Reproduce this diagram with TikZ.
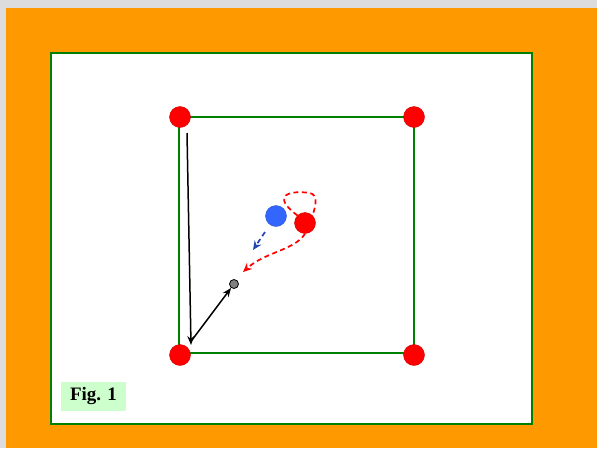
\documentclass[tikz,border=0pt]{standalone}
\usepackage{fontspec}
\setmainfont{Liberation Serif}
\usetikzlibrary{arrows.meta,patterns}
\definecolor{bggray}{HTML}{DCDCDC}
\definecolor{orng}{HTML}{FF9900}
\definecolor{grn}{HTML}{008000}
\definecolor{lgrn}{HTML}{CCFFCC}
\definecolor{bluedot}{HTML}{3366FF}
\tikzset{
  reddot/.style={circle,fill=red,draw=red!80!black,line width=0.4pt,minimum size=21pt,inner sep=0pt},
  bluedotst/.style={circle,fill=bluedot,draw=bluedot!80!black,line width=0.4pt,minimum size=21pt,inner sep=0pt},
  ballst/.style={circle,fill=black!50,draw=black,line width=0.8pt,minimum size=9pt,inner sep=0pt},
  movearrow/.style={-{Stealth[length=9pt,width=7pt]},line width=1.5pt},
  reddash/.style={red,dash pattern=on 5pt off 3.5pt,line width=1.7pt},
  bluedash/.style={bluedot!70!black,dash pattern=on 5pt off 3.5pt,line width=1.7pt}
}
\begin{document}
\begin{tikzpicture}[x=1pt,y=-1pt]
\useasboundingbox (0,0) rectangle (597,448);
\fill[bggray] (0,0) rectangle (597,448);
\fill[orng] (5.5,8) rectangle (597,448);
\draw[grn,fill=white,line width=2.4pt] (51,53) rectangle (532,424);
\draw[grn,line width=2.4pt] (179,117) rectangle (414,353);
\node[reddot] (tl) at (180,117) {};
\node[reddot] (tr) at (414,117) {};
\node[reddot] (bl) at (180,355) {};
\node[reddot] (br) at (414,355) {};
\node[bluedotst] (blue) at (276,216) {};
\node[reddot] (red) at (305,223) {};
\node[ballst] (ball) at (234,284) {};
\coordinate (a1s) at (187,133);
\coordinate (a1e) at (191,345);
\coordinate (a2s) at (192,340);
\coordinate (bluetip) at (253,250);
\coordinate (redtip) at (243,272);
\draw[movearrow] (a1s) -- (a1e);
\draw[movearrow] (a2s) -- (ball);
\draw[reddash] (red.north west) .. controls (270,195) and (290,190) .. (310,193) .. controls (318,195) and (316,205) .. (red.north east);
\draw[reddash,-{Stealth[length=9pt,width=8pt]}] (red.south) .. controls (295,250) and (265,252) .. (redtip);
\draw[bluedash,-{Stealth[length=9pt,width=8pt]}] (265,232) -- (bluetip);
\node[fill=lgrn,font=\bfseries\fontsize{19}{21}\selectfont,minimum width=65pt,minimum height=29pt,inner sep=0pt] (fig) at (93.5,396) {Fig. 1};
\end{tikzpicture}
\end{document}
